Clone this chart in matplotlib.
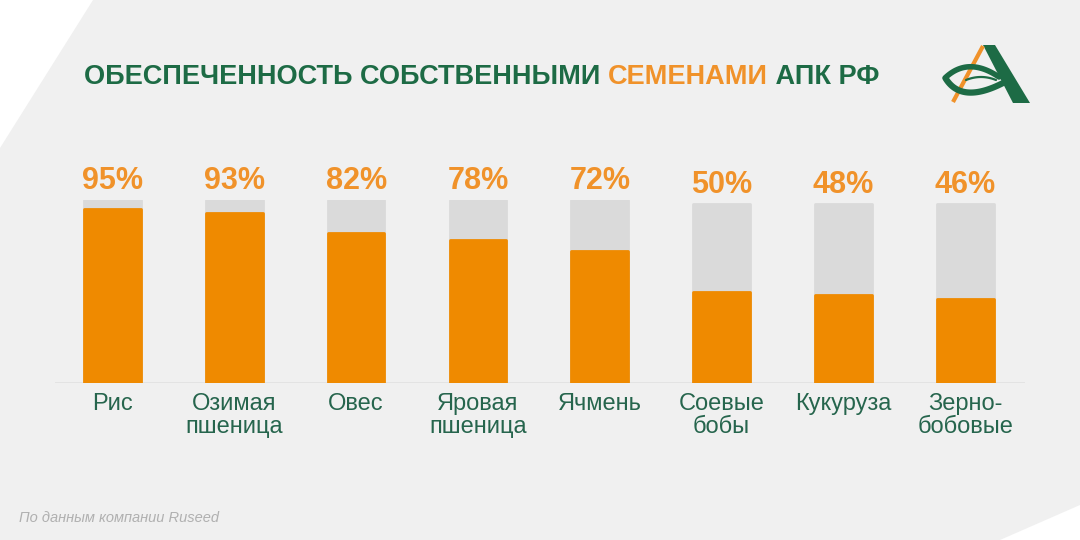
import matplotlib
matplotlib.use("Agg")
import matplotlib.pyplot as plt
from matplotlib.patches import Polygon
import numpy as np

plt.rcParams['font.family'] = ['Liberation Sans', 'DejaVu Sans']

# data
categories = ["Рис", "Озимая\nпшеница", "Овес", "Яровая\nпшеница", "Ячмень",
              "Соевые\nбобы", "Кукуруза", "Зерно-\nбобовые"]
values = [95, 93, 82, 78, 72, 50, 48, 46]
track = [100, 100, 100, 100, 100, 98, 98, 98]
labels = ["95%", "93%", "82%", "78%", "72%", "50%", "48%", "46%"]

GREEN = "#1d6b45"
LABEL_GREEN = "#26654d"
ORANGE = "#ef8a00"
ORANGE_TXT = "#f0922a"
TRACK = "#dadada"
BG = "#f0f0f0"


def bez(p0, p1, p2, n=40):
    t = np.linspace(0, 1, n)[:, None]
    p0, p1, p2 = map(np.array, (p0, p1, p2))
    pts = (1 - t) ** 2 * p0 + 2 * (1 - t) * t * p1 + t ** 2 * p2
    return pts[:, 0], pts[:, 1]


fig = plt.figure(figsize=(10.8, 5.4), dpi=100)
fig.patch.set_facecolor("white")

# pixel-space overlay for background shape, title, logo, footer
bg = fig.add_axes([0, 0, 1, 1], zorder=0)
bg.set_xlim(0, 1080)
bg.set_ylim(540, 0)
bg.axis("off")
bg.add_patch(Polygon([(93, 0), (1080, 0), (1080, 505), (1000, 540), (0, 540), (0, 148)],
                     closed=True, facecolor=BG, edgecolor="none"))

# logo
bg.add_patch(Polygon([(983, 45), (995, 45), (1030, 103), (1013, 103)],
                     closed=True, facecolor=GREEN, edgecolor="none"))
bg.plot([983, 953], [46, 102], color="#f0922a", lw=3, solid_capstyle="butt")
bg.plot(*bez((945, 78), (968, 56), (999, 77)), color=GREEN, lw=4, solid_capstyle="round")
bg.plot(*bez((946, 79), (962, 104), (1003, 83)), color=GREEN, lw=4.5, solid_capstyle="round")
bg.plot(*bez((966, 80), (981, 74), (996, 80)), color=GREEN, lw=1.6, solid_capstyle="round")

# title in three colored pieces
fig.canvas.draw()
r = fig.canvas.get_renderer()
parts = [("ОБЕСПЕЧЕННОСТЬ СОБСТВЕННЫМИ ", GREEN), ("СЕМЕНАМИ", ORANGE_TXT), (" АПК РФ", GREEN)]
x = 84
for txt, col in parts:
    t = bg.text(x, 84, txt, color=col, fontsize=19.5, fontweight="bold",
                ha="left", va="baseline")
    bb = t.get_window_extent(renderer=r)
    x += bb.width

bg.text(19, 522, "По данным компании Ruseed", color="#b0b0b0", fontsize=10.5,
        fontstyle="italic", ha="left", va="baseline")

# bars
ax = fig.add_axes([55 / 1080, 157 / 540, 970 / 1080, 183 / 540], zorder=1)
ax.patch.set_alpha(0)
xpos = np.arange(len(categories))
ax.bar(xpos, track, width=0.465, color=TRACK, edgecolor=TRACK, lw=2, joinstyle="round")
ax.bar(xpos, values, width=0.465, color=ORANGE, edgecolor=ORANGE, lw=2, joinstyle="round")
ax.axhline(0, color="#e2e2e2", lw=2, zorder=0)
ax.set_xlim(-0.472, 7.49)
ax.set_ylim(0, 100)
ax.axis("off")

for xi, tv, lab in zip(xpos, track, labels):
    ax.annotate(lab, (xi, tv), xytext=(0, 8), textcoords="offset points",
                ha="center", va="baseline", fontsize=22, fontweight="bold",
                color=ORANGE_TXT, annotation_clip=False)

for xi, cat in zip(xpos, categories):
    ax.annotate(cat, (xi, 0), xytext=(0, -7), textcoords="offset points",
                ha="center", va="top", fontsize=17, color=LABEL_GREEN,
                linespacing=1.1, annotation_clip=False)

fig.savefig("out.png", dpi=100, facecolor=fig.get_facecolor())
